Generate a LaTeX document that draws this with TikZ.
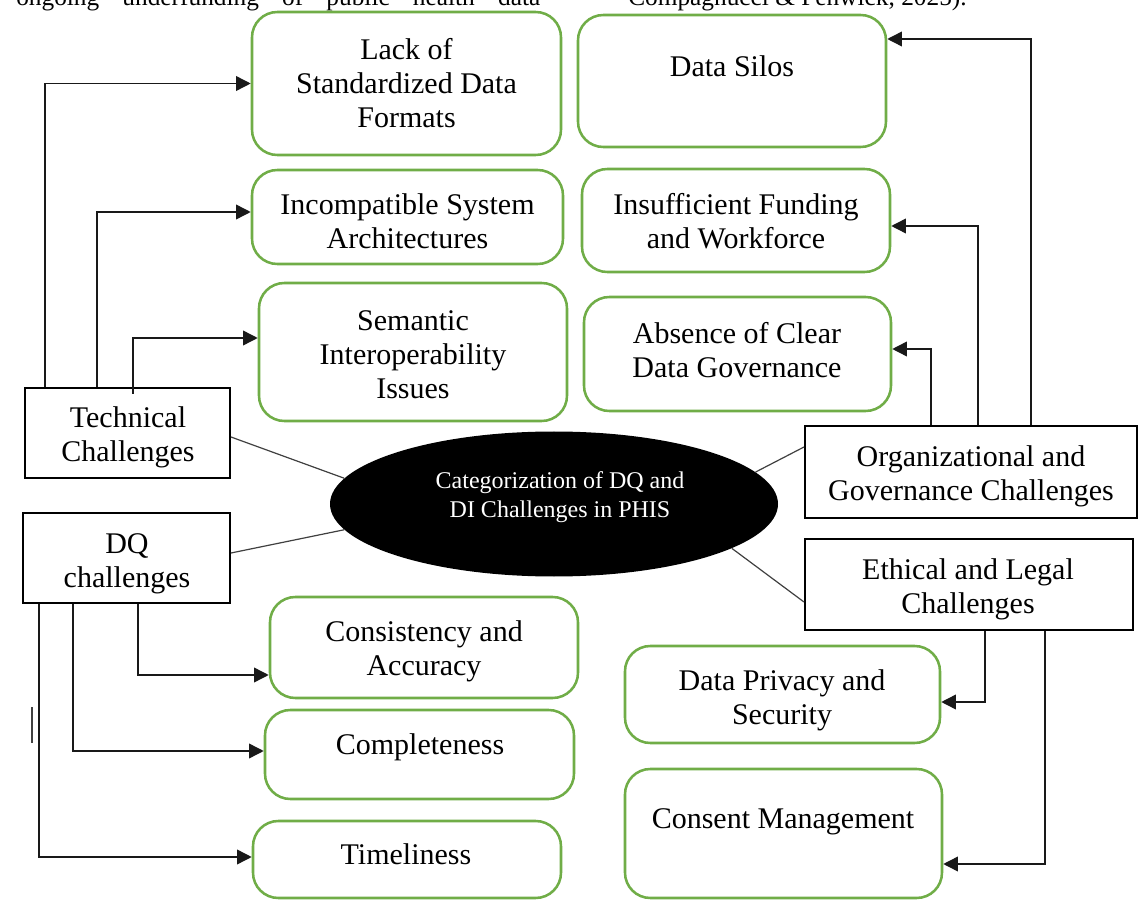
\documentclass[tikz,border=0pt]{standalone}
\usepackage{fontspec}
\setmainfont{Liberation Serif}
\usetikzlibrary{shapes.geometric,arrows.meta}
\definecolor{boxgreen}{HTML}{70AD47}
\definecolor{linkgray}{HTML}{404040}
\begin{document}
\begin{tikzpicture}[x=0.75pt,y=-0.75pt,
  sz/.style 2 args={minimum width=#1*0.75pt,minimum height=#2*0.75pt},
  gbox/.style={draw=boxgreen,line width=1.9pt,rounded corners=19pt,inner sep=0pt},
  kbox/.style={draw=black,line width=1.5pt,inner sep=0pt},
  txt/.style={align=center,inner sep=0pt,font=\fontsize{22.5}{25.5}\selectfont},
  link/.style={draw=linkgray,line width=0.9pt},
  arr/.style={draw=black!90,line width=1.1pt,-{Triangle[length=11pt,width=11pt]}}]
\useasboundingbox (0,0) rectangle (1140,902);
\fill[white] (0,0) rectangle (1140,902);
\clip (0,0) rectangle (1140,902);

% running text of the page above the figure
\node[anchor=base west,inner sep=0pt,font=\fontsize{19}{22}\selectfont] (para1) at (16,6)
  {\hbox to 393pt{ongoing\hfill underfunding\hfill of\hfill public\hfill health\hfill data}};
\node[anchor=base west,inner sep=0pt,font=\fontsize{19}{22}\selectfont] (para2) at (628,6)
  {Compagnucci \& Fenwick, 2025).};

% central ellipse
\node[ellipse,fill=black,inner sep=0pt,sz={448}{145}] (hub) at (554,504) {};
\node[txt,text=white,font=\fontsize{18}{21.75}\selectfont] (hubT) at (560,497.5)
  {Categorization of DQ and\\DI Challenges in PHIS};

% category boxes
\node[kbox,sz={205}{90}] (tech) at (127.5,433) {};
\node[txt] (techT) at (128,437) {Technical\\Challenges};
\node[kbox,sz={207}{90}] (dq) at (126.5,558) {};
\node[txt] (dqT) at (127,564) {DQ\\challenges};
\node[kbox,sz={332}{92}] (org) at (971,472) {};
\node[txt] (orgT) at (971,476) {Organizational and\\Governance Challenges};
\node[kbox,sz={328}{91}] (eth) at (969,584.5) {};
\node[txt] (ethT) at (968,589.5) {Ethical and Legal\\Challenges};

% technical challenges
\node[gbox,sz={309}{143}] (lack) at (406.5,83.5) {};
\node[txt] (lackT) at (406.5,83) {Lack of\\Standardized Data\\Formats};
\node[gbox,sz={311}{94}] (incomp) at (407.5,217) {};
\node[txt] (incompT) at (407.5,221) {Incompatible System\\Architectures};
\node[gbox,sz={308}{138}] (sem) at (413,352) {};
\node[txt] (semT) at (413,355) {Semantic\\Interoperability\\Issues};

% data quality challenges
\node[gbox,sz={308}{101}] (cons) at (424,647.5) {};
\node[txt] (consT) at (424,651.5) {Consistency and\\Accuracy};
\node[gbox,sz={309}{89}] (compl) at (419.5,754.5) {};
\node[txt] (complT) at (420,747) {Completeness};
\node[gbox,sz={308}{77}] (time) at (407,859.5) {};
\node[txt] (timeT) at (406,854) {Timeliness};

% organizational and governance challenges
\node[gbox,sz={308}{132}] (silos) at (732,81) {};
\node[txt] (silosT) at (732,66) {Data Silos};
\node[gbox,sz={308}{103}] (fund) at (736,220.5) {};
\node[txt] (fundT) at (736,221) {Insufficient Funding\\and Workforce};
\node[gbox,sz={307}{114}] (gov) at (737.5,354) {};
\node[txt] (govT) at (737,350) {Absence of Clear\\Data Governance};

% ethical and legal challenges
\node[gbox,sz={315}{97}] (priv) at (782.5,694.5) {};
\node[txt] (privT) at (782,700.5) {Data Privacy and\\Security};
\node[gbox,sz={317}{129}] (consent) at (783.5,833.5) {};
\node[txt] (consentT) at (783,822) {Consent Management};

% spokes from the hub
\draw[link] ([shift={(0,4)}]tech.east) -- (hub.173);
\draw[link] ([shift={(0,-5)}]dq.east) -- (hub.187);
\draw[link] (hub.9) -- ([shift={(0,-25)}]org.west);
\draw[link] (hub.-14) -- ([shift={(0,17.5)}]eth.west);

% elbow arrows to the individual challenges
\draw[arr] ([shift={(21,0)}]tech.north west) |- (lack.west);
\draw[arr] ([shift={(73,0)}]tech.north west) |- ([shift={(0,-5)}]incomp.west);
\draw[arr] ([shift={(109,7)}]tech.north west) |- ([shift={(0,-14)}]sem.west);
\draw[arr] ([shift={(116,0)}]dq.south west) |- ([shift={(0,27.5)}]cons.west);
\draw[arr] ([shift={(51,0)}]dq.south west) |- ([shift={(0,-3.5)}]compl.west);
\draw[arr] ([shift={(17,0)}]dq.south west) |- ([shift={(0,-2.5)}]time.west);
\draw[arr] ([shift={(227,0)}]org.north west) |- ([shift={(0,-42)}]silos.east);
\draw[arr] ([shift={(174,0)}]org.north west) |- ([shift={(0,5.5)}]fund.east);
\draw[arr] ([shift={(127,0)}]org.north west) |- ([shift={(0,-5)}]gov.east);
\draw[arr] ([shift={(181,0)}]eth.south west) |- ([shift={(0,7.5)}]priv.east);
\draw[arr] ([shift={(241,0)}]eth.south west) |- ([shift={(0,30.5)}]consent.east);

% short stray rule at the left margin
\draw[linkgray,line width=0.8pt] (32,707) -- (32,743);
\end{tikzpicture}
\end{document}
